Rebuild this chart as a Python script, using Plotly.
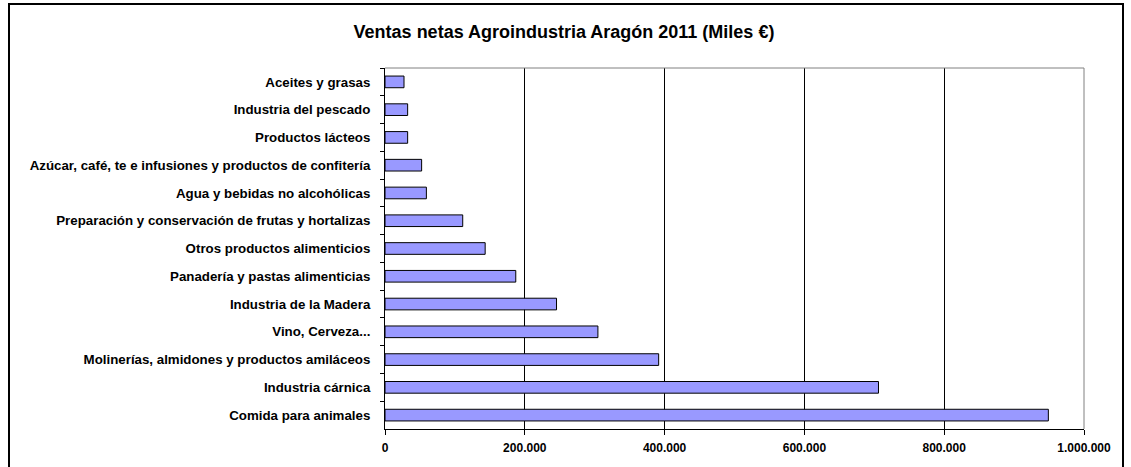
import plotly.graph_objects as go

categories = [
    "Aceites y grasas",
    "Industria del pescado",
    "Productos lácteos",
    "Azúcar, café, te e infusiones y productos de confitería",
    "Agua y bebidas no alcohólicas",
    "Preparación y conservación de frutas y hortalizas",
    "Otros productos alimenticios",
    "Panadería y pastas alimenticias",
    "Industria de la Madera",
    "Vino, Cerveza...",
    "Molinerías, almidones y productos amiláceos",
    "Industria cárnica",
    "Comida para animales",
]
values = [27200, 32400, 32400, 52400, 59200, 111200, 143300, 187100,
          245400, 304600, 391500, 706000, 949000]
x_ticks = [0, 200000, 400000, 600000, 800000, 1000000]

FONT = "Liberation Sans, Arial, sans-serif"

fig = go.Figure(go.Bar(
    y=categories,
    x=values,
    orientation="h",
    marker=dict(color="#9999FF", line=dict(color="#000000", width=1)),
    width=0.42,
    hoverinfo="x+y",
))

fig.update_layout(
    width=1131,
    height=467,
    margin=dict(l=385, r=47, t=68, b=38, autoexpand=False),
    paper_bgcolor="white",
    plot_bgcolor="white",
    separators=",.",
    showlegend=False,
    title=dict(
        text="Ventas netas Agroindustria Aragón 2011 (Miles €)",
        x=564 / 1131, xanchor="center", xref="container",
        y=1 - 31.5 / 467, yref="container", yanchor="middle",
        font=dict(family=FONT, size=18, color="#000000", weight="bold"),
    ),
    font=dict(family=FONT, color="#000000"),
)

fig.update_xaxes(
    range=[0, 1000000],
    tickvals=x_ticks,
    tickformat=",d",
    showgrid=True,
    gridcolor="#000000",
    gridwidth=1,
    zeroline=False,
    showline=True,
    linecolor="#000000",
    linewidth=1,
    ticks="outside",
    ticklen=5,
    tickcolor="#000000",
    ticklabelstandoff=3,
    tickfont=dict(family=FONT, size=12, color="#000000", weight="bold"),
    mirror=False,
    fixedrange=True,
)
fig.update_yaxes(
    autorange="reversed",
    type="category",
    showgrid=False,
    showline=True,
    linecolor="#000000",
    linewidth=1,
    ticks="outside",
    ticklen=4,
    tickcolor="#000000",
    tickson="boundaries",
    ticklabelstandoff=11,
    tickfont=dict(family=FONT, size=13.3, color="#000000", weight="bold"),
    fixedrange=True,
)

# grey plot-area border (top and right) and outer chart border
fig.add_shape(type="line", xref="paper", yref="paper", x0=0, x1=1, y0=1, y1=1,
              line=dict(color="#808080", width=1))
fig.add_shape(type="line", xref="paper", yref="paper", x0=1, x1=1, y0=0, y1=1,
              line=dict(color="#808080", width=1))
fig.add_shape(type="rect", xref="paper", yref="paper",
              x0=-376 / 699, x1=1 + 39 / 699, y0=-60 / 361, y1=1 + 64 / 361,
              line=dict(color="#000000", width=2), fillcolor="rgba(0,0,0,0)",
              layer="above")

fig.write_html("out.html", config={"displayModeBar": False},
               post_script="document.body.style.margin='0';")
